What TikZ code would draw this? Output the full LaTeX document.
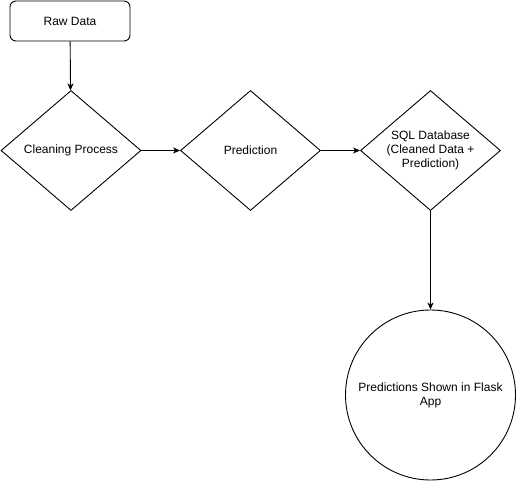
\documentclass[tikz,border=0pt]{standalone}
\usepackage{fontspec}
\setmainfont{Liberation Sans}
\usetikzlibrary{shapes.geometric,arrows.meta}
\begin{document}
\begin{tikzpicture}[x=1pt,y=-1pt,
  every node/.style={font=\fontsize{12}{14}\selectfont},
  box/.style={draw,line width=0.9pt,rounded corners=6pt,minimum width=120pt,minimum height=40pt,inner sep=0pt},
  dia/.style={draw,line width=0.9pt,diamond,minimum width=140pt,minimum height=120pt,inner sep=0pt},
  circ/.style={draw,line width=0.9pt,circle,minimum size=170pt,inner sep=0pt,align=center},
  conn/.style={line width=0.9pt,-{Stealth[length=7pt,width=6pt,inset=2pt]}}]
\useasboundingbox (0,0) rectangle (516,481);
\node[box] (raw) at (70,21) {Raw Data};
\node[dia,label={[align=center]center:Cleaning Process}] (clean) at (71,150.5) {};
\node[dia,label={[align=center]center:Prediction}] (pred) at (250.5,150.5) {};
\node[dia,label={[align=center]center:SQL Database\\(Cleaned Data +\\Prediction)}] (sql) at (430.5,150.5) {};
\node[circ] (app) at (430.5,395) {Predictions Shown in Flask\\App};
\draw[conn] (raw) -- (clean);
\draw[conn] (clean) -- (pred);
\draw[conn] (pred) -- (sql);
\draw[conn] (sql) -- (app);
\end{tikzpicture}
\end{document}
